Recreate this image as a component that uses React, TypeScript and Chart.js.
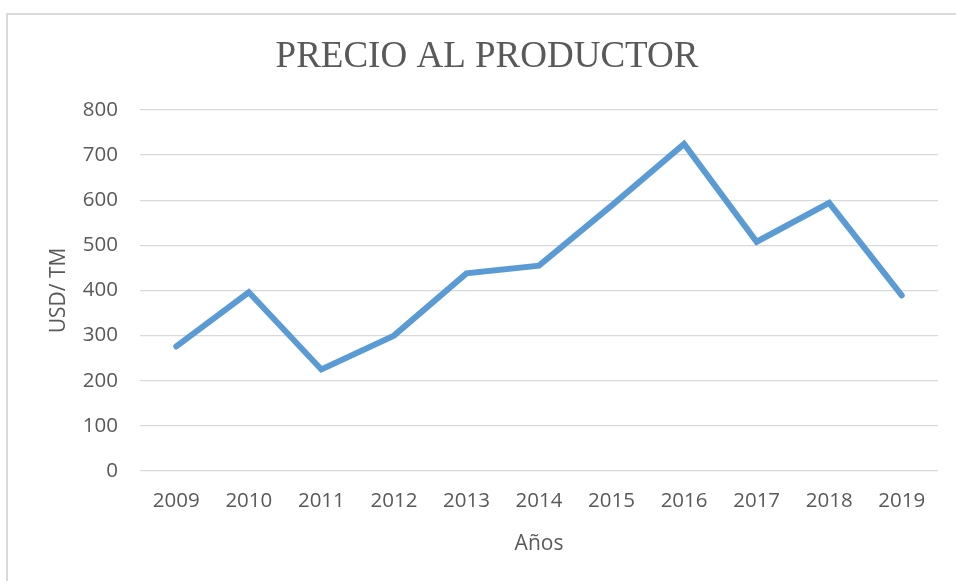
import React, { useEffect, useRef } from "react";
import { Chart, registerables } from "chart.js";

Chart.register(...registerables);

const years = ["2009", "2010", "2011", "2012", "2013", "2014", "2015", "2016", "2017", "2018", "2019"];
const prices = [276, 396, 225, 300, 438, 455, 588, 725, 508, 594, 389];
const chartTitle = "PRECIO AL PRODUCTOR";
const yTitle = "USD/ TM";
const xTitle = "Años";

const TEXT = "#595959";
const GRID = "#D9D9D9";
const LINE = "#5B9BD5";
const SANS = "'Open Sans', 'Noto Sans', sans-serif";

export default function App() {
  const ref = useRef<HTMLCanvasElement | null>(null);

  useEffect(() => {
    if (!ref.current) return;
    const chart = new Chart(ref.current, {
      type: "line",
      data: {
        labels: years,
        datasets: [
          {
            data: prices,
            borderColor: LINE,
            backgroundColor: LINE,
            borderWidth: 6,
            pointRadius: 0,
            tension: 0,
            borderJoinStyle: "miter",
            borderCapStyle: "round",
          },
        ],
      },
      options: {
        animation: false,
        responsive: false,
        maintainAspectRatio: false,
        layout: { padding: { left: 36, right: 18, top: 0, bottom: 0 } },
        plugins: {
          legend: { display: false },
          tooltip: { enabled: false },
          title: {
            display: true,
            text: chartTitle,
            color: TEXT,
            font: { family: "'Liberation Serif', 'Times New Roman', serif", size: 37, weight: "normal", lineHeight: 1.2 },
            padding: { top: 35, bottom: 30.6 },
          },
        },
        scales: {
          x: {
            offset: true,
            grid: { display: false, drawTicks: false },
            border: { display: false },
            ticks: { color: TEXT, font: { family: SANS, size: 20.5 }, padding: 18, maxRotation: 0 },
            title: {
              display: true,
              text: xTitle,
              color: TEXT,
              font: { family: SANS, size: 21, lineHeight: 1.2 },
              padding: { top: 0, bottom: 24 },
            },
            afterFit: (s: any) => {
              s.height = 110;
            },
          },
          y: {
            min: 0,
            max: 800,
            grid: { color: GRID, lineWidth: 1.3, drawTicks: false },
            border: { display: false },
            ticks: { stepSize: 100, color: TEXT, font: { family: SANS, size: 20.5 }, padding: 22 },
            title: {
              display: true,
              text: yTitle,
              color: TEXT,
              font: { family: SANS, size: 21, lineHeight: 1.2 },
              padding: { top: 10, bottom: 0 },
            },
            afterFit: (s: any) => {
              s.width = 104;
            },
          },
        },
      },
    });
    return () => chart.destroy();
  }, []);

  return (
    <div style={{ position: "absolute", left: 0, top: 0, width: 956, height: 581, overflow: "hidden", background: "#fff" }}>
      <div
        style={{
          position: "absolute",
          left: 6,
          top: 13,
          width: 970,
          height: 600,
          border: "2px solid #D9D9D9",
          boxSizing: "border-box",
        }}
      />
      <canvas ref={ref} width={956} height={581} style={{ position: "absolute", left: 0, top: 0 }} />
    </div>
  );
}
